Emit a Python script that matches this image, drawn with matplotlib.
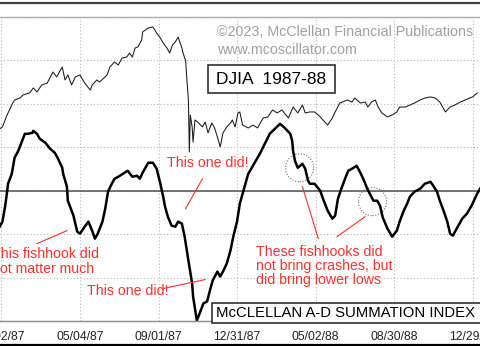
import matplotlib
matplotlib.use("Agg")
import matplotlib.pyplot as plt
from matplotlib.lines import Line2D
from matplotlib.patches import Ellipse, Rectangle

plt.rcParams["font.family"] = ["Liberation Sans", "DejaVu Sans"]

# trading-day index (0 = 01/02/87) and tick labels every 84 sessions
tick_days = [0, 84, 168, 252, 336, 420, 504]
tick_labels = ["01/02/87", "05/04/87", "09/01/87", "12/31/87",
               "05/02/88", "08/30/88", "12/29/88"]

# DJIA closes
djia_day = [-2, 1, 6, 12, 14, 20, 23, 30, 34, 38, 43, 49, 55, 59, 65, 68, 71, 75,
            79, 84, 89, 95, 97, 102, 105, 113, 116, 121, 125, 129, 134, 137, 140,
            143, 146, 150, 151, 157, 162, 166, 170, 173, 177, 180, 183, 186, 189,
            193, 194, 196, 197, 198, 200, 201, 202, 204, 205, 207, 210, 215, 218,
            221, 225, 228, 232, 234, 237, 241, 245, 247, 250, 253, 255, 258, 264,
            269, 274, 280, 285, 290, 295, 300, 307, 312, 317, 322, 325, 330, 335,
            339, 344, 349, 354, 357, 362, 370, 375, 378, 384, 389, 392, 396, 400,
            403, 407, 413, 418, 423, 426, 432, 437, 442, 448, 453, 459, 464, 469,
            475, 480, 485, 491, 496, 501, 504, 509]
djia_close = [1912, 1928, 2023, 2118, 2142, 2158, 2182, 2198, 2237, 2206, 2261, 2277,
              2364, 2325, 2404, 2301, 2341, 2261, 2325, 2341, 2277, 2221, 2261, 2301,
              2285, 2341, 2404, 2444, 2420, 2475, 2483, 2515, 2483, 2555, 2563, 2618,
              2682, 2714, 2722, 2674, 2634, 2595, 2555, 2515, 2579, 2603, 2642, 2555,
              2523, 2475, 2460, 2341, 2142, 1729, 2023, 1928, 1808, 1983, 1967, 1928,
              1967, 1880, 1959, 1920, 1824, 1769, 1880, 1928, 1959, 1983, 1928, 2039,
              2047, 1943, 1920, 1943, 1920, 1999, 2007, 2063, 2039, 2063, 1999, 2086,
              2039, 2102, 2039, 2047, 2047, 2023, 1983, 1943, 1999, 2047, 2118, 2142,
              2126, 2158, 2118, 2126, 2086, 2126, 2142, 2086, 2039, 2007, 2023, 2047,
              2086, 2086, 2102, 2118, 2142, 2158, 2166, 2158, 2126, 2047, 2086, 2102,
              2126, 2142, 2158, 2166, 2198]

# McClellan A-D Summation Index
sum_day = [-2, 1, 4, 6, 7, 11, 14, 18, 25, 28, 33, 34, 38, 41, 47, 52, 57, 60, 65,
           66, 70, 71, 75, 77, 81, 84, 89, 93, 97, 100, 103, 108, 111, 114, 118,
           121, 125, 130, 135, 140, 145, 148, 151, 157, 162, 166, 170, 173, 175,
           178, 182, 186, 189, 193, 196, 200, 204, 205, 209, 212, 216, 220, 223,
           226, 231, 234, 237, 241, 245, 248, 252, 255, 258, 264, 266, 277, 287,
           298, 303, 309, 311, 312, 314, 317, 322, 325, 328, 330, 335, 341, 344,
           349, 354, 357, 360, 364, 368, 371, 375, 380, 384, 387, 391, 394, 398,
           402, 405, 408, 413, 418, 423, 426, 430, 434, 437, 442, 448, 453, 459,
           462, 466, 469, 473, 477, 480, 483, 487, 493, 498, 503, 509, 512]
sum_value = [-414, -356, -172, -11, 80, 195, 379, 460, 655, 655, 666, 689, 655, 597,
             552, 483, 437, 379, 264, 195, 46, -115, -230, -287, -471, -494, -414,
             -356, -460, -552, -494, -356, -207, -11, 80, 138, 161, 195, 230, 161,
             172, 138, 207, 322, 322, 253, 80, -69, -184, -299, -402, -414, -356,
             -379, -529, -804, -1069, -1218, -1494, -1413, -1298, -1275, -1149,
             -1034, -931, -988, -931, -839, -689, -529, -356, -149, -34, 195, 230,
             437, 655, 770, 724, 655, 575, 460, 345, 264, 310, 253, 115, 80, 80, 0,
             -92, -230, -322, -287, -92, 34, 149, 230, 253, 287, 207, 138, 34, -34,
             -115, -115, -172, -310, -437, -529, -460, -356, -241, -149, -69, -11,
             23, 80, 103, 57, -11, -115, -230, -356, -494, -517, -437, -322, -264,
             -172, -34, 23]

W, H = 480, 346


def fig_xy(px, py):
    return px / W, 1 - py / H


fig = plt.figure(figsize=(W / 100, H / 100), dpi=100)
ax = fig.add_axes([0, 1 - 321 / H, 1, 304 / H])
ax2 = ax.twinx()

ax.set_xlim(-1.6, 512)
ax.set_ylim(-1500, 2000)
ax2.set_ylim(387, 2801)

ax.set_xticks(tick_days)
ax.set_xticklabels(tick_labels, fontsize=8.7, color="#222222")
ax.set_yticks(range(-1500, 2001, 500))
ax.tick_params(axis="x", length=0, pad=7)
ax.tick_params(axis="y", length=0, labelleft=False)
ax2.tick_params(axis="y", length=0, labelright=False)
ax.grid(True, linestyle=(0, (1, 2)), color="#b8b8b8", linewidth=0.8)

for a in (ax, ax2):
    a.spines["left"].set_visible(False)
    a.spines["right"].set_visible(False)
    a.spines["top"].set_color("#b0b0b0")
    a.spines["bottom"].set_color("#909090")
    a.spines["top"].set_linewidth(0.9)
    a.spines["bottom"].set_linewidth(0.9)

ax.axhline(0, color="#505050", linewidth=1.1)

ax.plot(sum_day, sum_value, color="black", linewidth=1.8, solid_joinstyle="round")
ax2.plot(djia_day, djia_close, color="#1a1a1a", linewidth=0.75)

red = "#ff3030"
note_size = 10.2

# annotations
ax.text(177, 322, "This one did!", color=red, fontsize=note_size, va="center")
ax.plot([197, 215], [-207, 138], color=red, linewidth=0.8)

ax.text(-10.5, -815, "This fishhook did\nnot matter much", color=red,
        fontsize=note_size, va="center", linespacing=1.05)
ax.plot([38, 70], [-609, -460], color=red, linewidth=0.8)

ax.text(92, -1160, "This one did!", color=red, fontsize=note_size, va="center")
ax.plot([173, 218], [-1126, -1023], color=red, linewidth=0.8)

ax.text(272, -862, "These fishhooks did\nnot bring crashes, but\ndid bring lower lows",
        color=red, fontsize=note_size, va="center", linespacing=1.0)
ax.plot([322, 339], [46, -552], color=red, linewidth=0.8)
ax.plot([359, 389], [-529, -299], color=red, linewidth=0.8)

for cx, cy in [(319, 264), (397, -126)]:
    ax.add_patch(Ellipse((cx, cy), 30, 322, fill=False, edgecolor="#707070",
                         linestyle=(0, (1, 1.5)), linewidth=0.8))

# header and boxed titles
fig.text(*fig_xy(217, 32), "\u00a92023, McClellan Financial Publications",
         color="#a0a0a0", fontsize=10.3, va="center")
fig.text(*fig_xy(217, 50), "www.mcoscillator.com", color="#a0a0a0",
         fontsize=10.3, va="center")

x0, y0 = fig_xy(208, 93)
fig.add_artist(Rectangle((x0, y0), 127 / W, 28 / H, transform=fig.transFigure,
                         facecolor="white", edgecolor="#303030", linewidth=1.2))
fig.text(*fig_xy(271.5, 79), "DJIA  1987-88", fontsize=12.5, color="black",
         ha="center", va="center")

x0, y0 = fig_xy(212, 323)
fig.add_artist(Rectangle((x0, y0), 280 / W, 20 / H, transform=fig.transFigure,
                         facecolor="white", edgecolor="#303030", linewidth=1.2))
fig.text(*fig_xy(216, 313), "McCLELLAN A-D SUMMATION INDEX", fontsize=10.7,
         color="black", va="center")

# frame lines above and below the chart
for py, col in [(3, "#404040"), (345, "black")]:
    yy = fig_xy(0, py)[1]
    fig.add_artist(Line2D([0, 1], [yy, yy], transform=fig.transFigure,
                          color=col, linewidth=1.6))

fig.savefig("out.png", dpi=100, facecolor="white")
